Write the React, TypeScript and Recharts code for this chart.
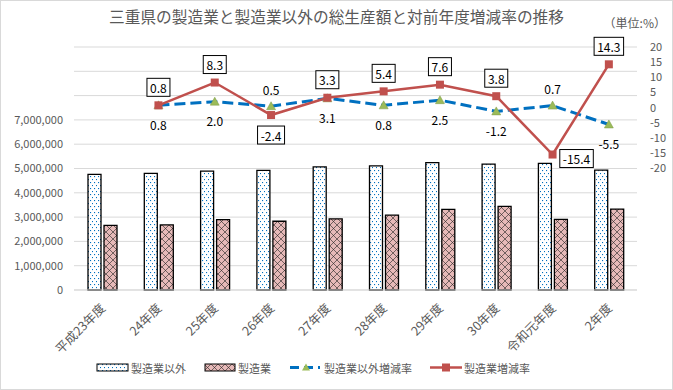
import React from 'react';
import {
  ComposedChart,
  Bar,
  Line,
  XAxis,
  YAxis,
  CartesianGrid,
  LabelList,
  Legend
} from 'recharts';

const years = ['平成23年度', '24年度', '25年度', '26年度', '27年度', '28年度', '29年度', '30年度', '令和元年度', '2年度'];
const nonMfg = [4760000, 4800000, 4890000, 4920000, 5070000, 5110000, 5240000, 5180000, 5210000, 4930000];
const mfg = [2660000, 2680000, 2900000, 2830000, 2930000, 3080000, 3320000, 3440000, 2910000, 3330000];
const nonMfgRate = [null, 0.8, 2.0, 0.5, 3.1, 0.8, 2.5, -1.2, 0.7, -5.5];
const mfgRate = [null, 0.8, 8.3, -2.4, 3.3, 5.4, 7.6, 3.8, -15.4, 14.3];

const leftTicks = [0, 1000000, 2000000, 3000000, 4000000, 5000000, 6000000, 7000000, 8000000, 9000000, 10000000];
const rightTicks = [-60, -55, -50, -45, -40, -35, -30, -25, -20, -15, -10, -5, 0, 5, 10, 15, 20];

const data = years.map((year, i) => ({
  year,
  nonMfg: nonMfg[i],
  mfg: mfg[i],
  nonMfgRate: nonMfgRate[i],
  mfgRate: mfgRate[i]
}));

const FONT = '"Noto Sans CJK JP", "Noto Sans", sans-serif';
const RED = '#c0504d';
const BLUE = '#0070c0';
const TRI = '#9bbb59';
const GRAY = '#595959';

// rough text width for the boxed labels
const textW = (s: string) =>
  s.split('').reduce((w, c) => w + (c === '.' ? 3 : c === '-' ? 4 : 6.5), 0);

const YearTick = ({ x, y, payload }: any) => (
  <text
    x={x + 4}
    y={y + 17}
    transform={`rotate(-45, ${x + 4}, ${y + 17})`}
    textAnchor="end"
    fontSize={12.5}
    fill={GRAY}
  >
    {payload.value}
  </text>
);

const SquareDot = (p: any) => {
  const { cx, cy, key } = p;
  if (cx == null || cy == null || isNaN(cy)) return <g key={key} />;
  return <rect key={key} x={cx - 4} y={cy - 4} width={8} height={8} fill={RED} />;
};

const TriangleDot = (p: any) => {
  const { cx, cy, key } = p;
  if (cx == null || cy == null || isNaN(cy)) return <g key={key} />;
  return (
    <polygon
      key={key}
      points={`${cx},${cy - 4.5} ${cx - 4.5},${cy + 3.5} ${cx + 4.5},${cy + 3.5}`}
      fill={TRI}
      stroke="#7f9a48"
      strokeWidth={0.5}
    />
  );
};

const RedLabel = (props: any) => {
  const { x, y, value } = props;
  if (value == null) return null;
  const txt = Number(value).toFixed(1);
  const w = textW(txt) + 7;
  const h = 18;
  let cx = x;
  let cy = y - 18;
  if (value < -10) {
    cx = x + 24;
    cy = y + 4;
  } else if (value < 0) {
    cy = y + 20;
  }
  return (
    <g>
      <rect x={cx - w / 2} y={cy - h / 2} width={w} height={h} fill="#fff" stroke="#000" strokeWidth={1} />
      <text x={cx} y={cy} textAnchor="middle" dominantBaseline="central" fontSize={12} fill="#000">
        {txt}
      </text>
    </g>
  );
};

const BlueLabel = (props: any) => {
  const { x, y, value, index } = props;
  if (value == null) return null;
  const above = (mfgRate[index] ?? 0) < 0;
  return (
    <text
      x={x}
      y={above ? y - 17 : y + 19}
      textAnchor="middle"
      dominantBaseline="central"
      fontSize={12}
      fill="#000"
    >
      {Number(value).toFixed(1)}
    </text>
  );
};

const ChartLegend = () => (
  <svg width={671} height={20} style={{ display: 'block' }}>
    <rect x={96} y={7} width={31} height={7} fill="url(#dots)" stroke="#000" strokeWidth={1} />
    <text x={130} y={10.5} dominantBaseline="central" fontSize={11} fill={GRAY}>製造業以外</text>
    <rect x={204} y={7} width={30} height={7} fill="url(#cross)" stroke="#000" strokeWidth={1} />
    <text x={237} y={10.5} dominantBaseline="central" fontSize={11} fill={GRAY}>製造業</text>
    <line x1={289} y1={10.5} x2={319} y2={10.5} stroke={BLUE} strokeWidth={3} strokeDasharray="9 5" />
    <polygon points="305,6.5 301,13.5 309,13.5" fill={TRI} />
    <text x={323} y={10.5} dominantBaseline="central" fontSize={11} fill={GRAY}>製造業以外増減率</text>
    <line x1={429} y1={10.5} x2={461} y2={10.5} stroke={RED} strokeWidth={2.5} />
    <rect x={441} y={6.5} width={8} height={8} fill={RED} />
    <text x={463} y={10.5} dominantBaseline="central" fontSize={11} fill={GRAY}>製造業増減率</text>
  </svg>
);

function App() {
  return (
    <div
      style={{
        position: 'absolute',
        left: 0,
        top: 0,
        width: 673,
        height: 390,
        boxSizing: 'border-box',
        border: '1px solid #d9d9d9',
        background: '#fff',
        fontFamily: FONT
      }}
    >
      <div
        style={{
          position: 'absolute',
          left: 0,
          top: 7,
          width: 671,
          textAlign: 'center',
          fontSize: 15.7,
          lineHeight: '18px',
          color: GRAY
        }}
      >
        三重県の製造業と製造業以外の総生産額と対前年度増減率の推移
      </div>
      <div
        style={{
          position: 'absolute',
          right: 6,
          top: 15,
          fontSize: 12,
          lineHeight: '14px',
          color: GRAY
        }}
      >
        （単位:%）
      </div>
      <ComposedChart
        width={671}
        height={388}
        data={data}
        barSize={13}
        barGap={3}
        margin={{ top: 46, right: 0, bottom: 0, left: 0 }}
      >
        <defs>
          <pattern id="dots" width={4} height={6} patternUnits="userSpaceOnUse">
            <rect width={4} height={6} fill="#fff" />
            <rect x={1} y={1} width={1.1} height={1.1} fill={BLUE} />
            <rect x={3} y={4} width={1.1} height={1.1} fill={BLUE} />
          </pattern>
          <pattern id="cross" width={7} height={7} patternUnits="userSpaceOnUse">
            <rect width={7} height={7} fill="#e6b9b8" />
            <path d="M0,0 L7,7 M7,0 L0,7" stroke="#222" strokeWidth={0.6} />
          </pattern>
        </defs>
        <CartesianGrid vertical={false} stroke="#d9d9d9" yAxisId="left" />
        <XAxis
          dataKey="year"
          interval={0}
          height={79}
          tickLine={false}
          tickSize={0}
          axisLine={{ stroke: '#d9d9d9' }}
          tick={<YearTick />}
        />
        <YAxis
          yAxisId="left"
          width={73}
          domain={[0, 10000000]}
          ticks={leftTicks}
          interval={0}
          axisLine={false}
          tickLine={false}
          tickSize={0}
          tickMargin={11}
          tick={{ fontSize: 11, fill: GRAY }}
          tickFormatter={(v: number) => (v > 7000000 ? '' : v.toLocaleString('en-US'))}
        />
        <YAxis
          yAxisId="right"
          orientation="right"
          width={35}
          domain={[-60, 20]}
          ticks={rightTicks}
          interval={0}
          axisLine={false}
          tickLine={false}
          tickSize={0}
          tickMargin={13}
          tick={{ fontSize: 11, fill: GRAY, textAnchor: 'start' }}
          tickFormatter={(v: number) => (v < -20 ? '' : String(v))}
        />
        <Bar
          yAxisId="left"
          dataKey="nonMfg"
          name="製造業以外"
          fill="url(#dots)"
          stroke="#000"
          strokeWidth={1.3}
          isAnimationActive={false}
        />
        <Bar
          yAxisId="left"
          dataKey="mfg"
          name="製造業"
          fill="url(#cross)"
          stroke="#000"
          strokeWidth={1.3}
          isAnimationActive={false}
        />
        <Line
          yAxisId="right"
          dataKey="nonMfgRate"
          name="製造業以外増減率"
          stroke={BLUE}
          strokeWidth={3}
          strokeDasharray="11 5"
          dot={TriangleDot}
          activeDot={false}
          isAnimationActive={false}
        >
          <LabelList dataKey="nonMfgRate" content={BlueLabel} />
        </Line>
        <Line
          yAxisId="right"
          dataKey="mfgRate"
          name="製造業増減率"
          stroke={RED}
          strokeWidth={2.5}
          dot={SquareDot}
          activeDot={false}
          isAnimationActive={false}
        >
          <LabelList dataKey="mfgRate" content={RedLabel} />
        </Line>
        <Legend
          verticalAlign="bottom"
          align="left"
          layout="horizontal"
          wrapperStyle={{ bottom: 12, left: 0, width: 671 }}
          content={() => <ChartLegend />}
        />
      </ComposedChart>
    </div>
  );
}

export default App;
